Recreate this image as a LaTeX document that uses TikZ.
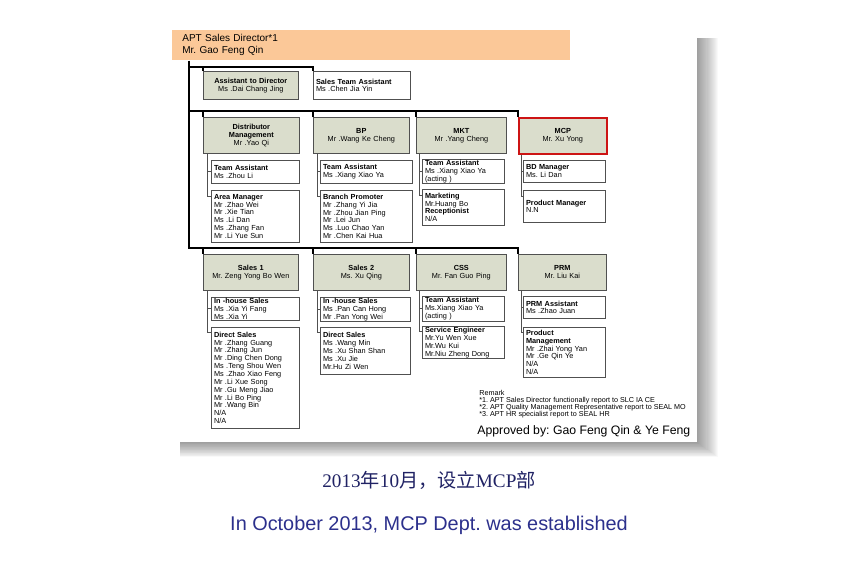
\documentclass[tikz,border=0pt]{standalone}
\usepackage{fontspec}
\setmainfont{Liberation Sans}
\newfontfamily\cjk{Noto Sans CJK SC}
\newfontfamily\timesnum{Liberation Serif}
\usetikzlibrary{calc}
\definecolor{sage}{RGB}{218,221,204}
\definecolor{peach}{RGB}{251,200,152}
\definecolor{edge}{RGB}{80,80,80}
\definecolor{mcpred}{RGB}{205,20,20}
\definecolor{inkzh}{RGB}{32,34,100}
\definecolor{inken}{RGB}{44,48,140}
\newcommand\boxfont{\fontsize{5.5}{5.9}\selectfont}
\frenchspacing

\begin{document}
\begin{tikzpicture}[x=.75pt,y=-.75pt,line width=.5pt,
  headbox/.style 2 args={draw=edge,fill=sage,anchor=north west,align=center,inner sep=1pt,
    minimum width=#1*.75pt,text width=#1*.75pt-2pt,minimum height=#2*.75pt,font=\boxfont},
  subbox/.style 2 args={draw=edge,fill=white,anchor=north west,align=left,inner xsep=2pt,inner ysep=.5pt,
    minimum width=#1*.75pt,text width=#1*.75pt-4pt,minimum height=#2*.75pt,font=\boxfont},
  bus/.style={line width=1.5pt},
  twig/.style={draw=edge,line width=.6pt}]
\useasboundingbox (0,0) rectangle (862,560);
% page with its shadow
\foreach \i in {1,...,20}
  \fill[black,opacity=.024] (180,38) rectangle ({697+\i*1.05},{442+\i*.75});
\fill[white] (172,30) rectangle (697,442);
\node[fill=peach,anchor=north west,align=left,inner xsep=7.5pt,inner ysep=0pt,
  minimum width=398*.75pt,text width=398*.75pt-15pt,minimum height=30*.75pt,
  font=\fontsize{7.5}{9}\selectfont] (hdr) at (172,30) {APT Sales Director*1\\Mr. Gao Feng Qin};

% assistants
\node[headbox={95}{28}] (ad) at (203,71) {\textbf{Assistant to Director}\\Ms .Dai Chang Jing};
\node[subbox={97}{28}] (sta) at (313,71) {\textbf{Sales Team Assistant}\\Ms .Chen Jia Yin};

% second row
\node[headbox={96}{36}] (dm) at (203,117) {\textbf{Distributor}\\\textbf{Management}\\Mr .Yao Qi};
\node[headbox={96}{36}] (bp) at (313,117) {\textbf{BP}\\Mr .Wang Ke Cheng};
\node[headbox={90}{36}] (mkt) at (416,117) {\textbf{MKT}\\Mr .Yang Cheng};
\node[headbox={88}{36},draw=mcpred,line width=1.2pt] (mcp) at (518,117) {\textbf{MCP}\\Mr. Xu Yong};
\node[subbox={88}{23}] (dta) at (211,160) {\textbf{Team Assistant}\\Ms .Zhou Li};
\node[subbox={88}{52}] (dam) at (211,190) {\textbf{Area Manager}\\Mr .Zhao Wei\\Mr .Xie Tian\\Ms .Li Dan\\Ms .Zhang Fan\\Mr .Li Yue Sun};
\node[subbox={92}{23}] (bta) at (320,160) {\textbf{Team Assistant}\\Ms .Xiang Xiao Ya};
\node[subbox={92}{52}] (bbp) at (320,190) {\textbf{Branch Promoter}\\Mr .Zhang Yi Jia\\Mr .Zhou Jian Ping\\Mr .Lei Jun\\Ms .Luo Chao Yan\\Mr .Chen Kai Hua};
\node[subbox={82}{23}] (mta) at (422,159) {\textbf{Team Assistant}\\Ms .Xiang Xiao Ya\\(acting )};
\node[subbox={82}{36}] (mmk) at (422,189) {\textbf{Marketing}\\Mr.Huang Bo\\\textbf{Receptionist}\\N/A};
\node[subbox={82}{22}] (mbd) at (523,160) {\textbf{BD Manager}\\Ms. Li Dan};
\node[subbox={82}{32}] (mpm) at (523,190) {\textbf{Product Manager}\\N.N};

% third row
\node[headbox={95}{36}] (s1) at (203,254) {\textbf{Sales 1}\\Mr. Zeng Yong Bo Wen};
\node[headbox={96}{36}] (s2) at (313,254) {\textbf{Sales 2}\\Ms. Xu Qing};
\node[headbox={90}{36}] (css) at (416,254) {\textbf{CSS}\\Mr. Fan Guo Ping};
\node[headbox={88}{36}] (prm) at (518,254) {\textbf{PRM}\\Mr. Liu Kai};
\node[subbox={88}{23}] (s1ih) at (211,297) {\textbf{In -house Sales}\\Ms .Xia Yi Fang\\Ms .Xia Yi};
\node[subbox={88}{101}] (s1ds) at (211,327) {\textbf{Direct Sales}\\Mr .Zhang Guang\\Mr .Zhang Jun\\Mr .Ding Chen Dong\\Ms .Teng Shou Wen\\Ms .Zhao Xiao Feng\\Mr .Li Xue Song\\Mr .Gu Meng Jiao\\Mr .Li Bo Ping\\Mr .Wang Bin\\N/A\\N/A};
\node[subbox={90}{23}] (s2ih) at (320,297) {\textbf{In -house Sales}\\Ms .Pan Can Hong\\Mr .Pan Yong Wei};
\node[subbox={90}{47}] (s2ds) at (320,327) {\textbf{Direct Sales}\\Ms .Wang Min\\Ms .Xu Shan Shan\\Ms .Xu Jie\\Mr.Hu Zi Wen};
\node[subbox={82}{25}] (cta) at (422,296) {\textbf{Team Assistant}\\Ms.Xiang Xiao Ya\\(acting )};
\node[subbox={82}{32}] (cse) at (422,326) {\textbf{Service Engineer}\\Mr.Yu Wen Xue\\Mr.Wu Kui\\Mr.Niu Zheng Dong};
\node[subbox={82}{22}] (pa) at (523,296) {\textbf{PRM Assistant}\\Ms .Zhao Juan};
\node[subbox={82}{50}] (ppm) at (523,327) {\textbf{Product}\\\textbf{Management}\\Mr .Zhai Yong Yan\\Mr .Ge Qin Ye\\N/A\\N/A};

% reporting lines
\coordinate (rowa) at (189,67);
\coordinate (rowb) at (189,111);
\coordinate (rowc) at (189,248);
\draw[bus] ($(hdr.south west)+(17,0)$) -- (rowc) -| (prm.north west);
\draw[bus] (rowa) -| (sta.north west);
\draw[bus] (rowb) -| (mcp.north west);
\draw[bus] (ad.north west) -- (ad.north west |- rowa);
\draw[bus] (dm.north west) -- (dm.north west |- rowb);
\draw[bus] (bp.north west) -- (bp.north west |- rowb);
\draw[bus] (mkt.north west) -- (mkt.north west |- rowb);
\draw[bus] (s1.north west) -- (s1.north west |- rowc);
\draw[bus] (s2.north west) -- (s2.north west |- rowc);
\draw[bus] (css.north west) -- (css.north west |- rowc);
\draw[twig] ($(dm.south west)+(4,0)$) |- (dta.west);
\draw[twig] ($(dm.south west)+(4,0)$) |- ($(dam.north west)+(0,6)$);
\draw[twig] ($(bp.south west)+(4,0)$) |- (bta.west);
\draw[twig] ($(bp.south west)+(4,0)$) |- ($(bbp.north west)+(0,6)$);
\draw[twig] ($(mkt.south west)+(3,0)$) |- (mta.west);
\draw[twig] ($(mkt.south west)+(3,0)$) |- ($(mmk.north west)+(0,6)$);
\draw[twig] ($(mcp.south west)+(3,0)$) |- (mbd.west);
\draw[twig] ($(mcp.south west)+(3,0)$) |- ($(mpm.north west)+(0,6)$);
\draw[twig] ($(s1.south west)+(4,0)$) |- (s1ih.west);
\draw[twig] ($(s1.south west)+(4,0)$) |- ($(s1ds.north west)+(0,5)$);
\draw[twig] ($(s2.south west)+(4,0)$) |- (s2ih.west);
\draw[twig] ($(s2.south west)+(4,0)$) |- ($(s2ds.north west)+(0,5)$);
\draw[twig] ($(css.south west)+(3,0)$) |- (cta.west);
\draw[twig] ($(css.south west)+(3,0)$) |- ($(cse.north west)+(0,5)$);
\draw[twig] ($(prm.south west)+(3,0)$) |- (pa.west);
\draw[twig] ($(prm.south west)+(3,0)$) |- ($(ppm.north west)+(0,5)$);

% remarks
\node[anchor=north west,align=left,inner sep=0pt,font=\fontsize{5.4}{5.3}\selectfont] (rmk) at (479,390)
  {Remark\\*1. APT Sales Director functionally report to SLC IA CE\\*2. APT Quality Management Representative report to SEAL MO\\*3. APT HR specialist report to SEAL HR};
\node[anchor=west,inner sep=0pt,font=\fontsize{9.2}{10}\selectfont] (appr) at (477,431) {Approved by: Gao Feng Qin \& Ye Feng};

% captions
\node[text=inkzh,font=\fontsize{14.4}{16}\selectfont] (zh) at (429,480)
  {{\timesnum 2013}{\cjk 年}{\timesnum 10}{\cjk 月，设立}{\timesnum MCP}{\cjk 部}};
\node[text=inken,font=\fontsize{14.9}{17}\selectfont] (en) at (429,525) {In October 2013, MCP Dept. was established};
\end{tikzpicture}
\end{document}
